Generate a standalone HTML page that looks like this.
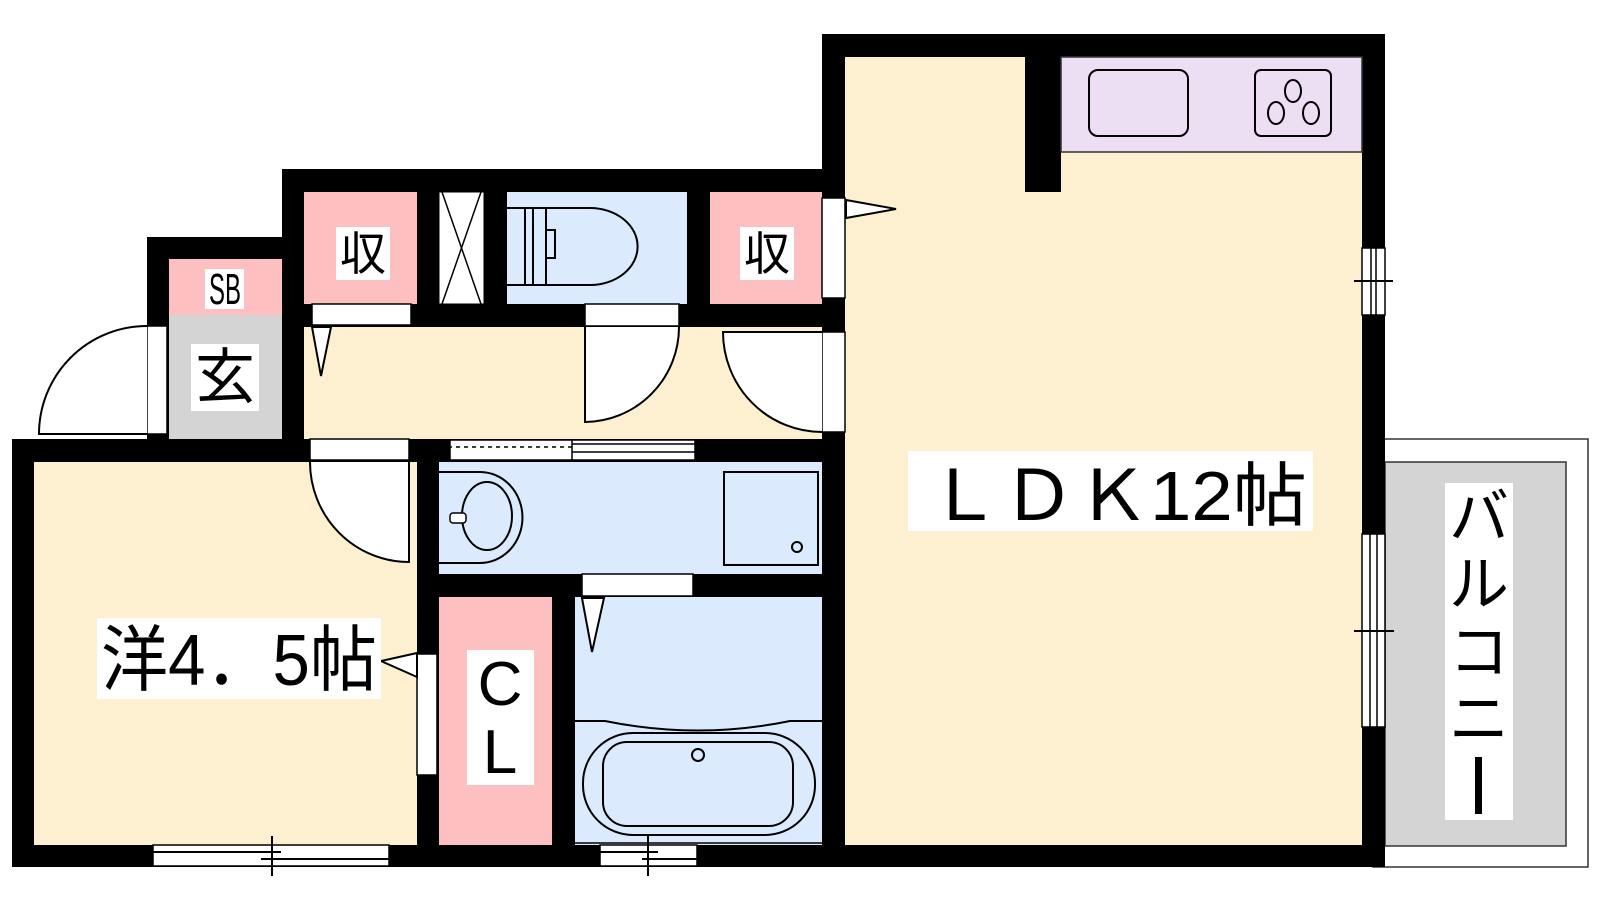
<!DOCTYPE html>
<html><head><meta charset="utf-8"><style>html,body{margin:0;padding:0;background:#fff}svg{display:block}</style></head>
<body>
<svg width="1600" height="900" viewBox="0 0 1600 900" xmlns="http://www.w3.org/2000/svg" font-family="'Liberation Sans','Noto Sans CJK JP',sans-serif">
<!-- balcony -->
<rect x="1373" y="439" width="215" height="428" fill="#fff" stroke="#333" stroke-width="1.5"/>
<rect x="1385" y="462" width="181" height="384" fill="#d4d4d4" stroke="#333" stroke-width="1.5"/>
<!-- walls black base -->
<rect x="822" y="34" width="563" height="833" fill="#000"/>
<rect x="282" y="169" width="560" height="290" fill="#000"/>
<rect x="147" y="237" width="160" height="222" fill="#000"/>
<rect x="12" y="439" width="830" height="428" fill="#000"/>
<!-- LDK -->
<rect x="845" y="57" width="517" height="788" fill="#fdf0d0"/>
<rect x="1025" y="57" width="36" height="135" fill="#000"/>
<rect x="1061" y="57" width="301" height="95" fill="#ecdff4" stroke="#333" stroke-width="1.5"/>
<rect x="1089" y="70" width="99" height="66" rx="9" fill="none" stroke="#000" stroke-width="2"/>
<rect x="1255" y="70" width="76" height="66" rx="6" fill="none" stroke="#000" stroke-width="2"/>
<g fill="none" stroke="#000" stroke-width="2"><ellipse cx="1293" cy="91" rx="8" ry="11"/><ellipse cx="1276" cy="113" rx="8" ry="11"/><ellipse cx="1311" cy="113" rx="8" ry="11"/></g>
<!-- right wall windows -->
<rect x="1362" y="248" width="23" height="67" fill="#fff" stroke="#000" stroke-width="1.5"/>
<line x1="1371" y1="248" x2="1371" y2="315" stroke="#000" stroke-width="1.5"/><line x1="1376" y1="248" x2="1376" y2="315" stroke="#000" stroke-width="1.5"/>
<line x1="1354" y1="281" x2="1393" y2="281" stroke="#000" stroke-width="2"/>
<rect x="1362" y="534" width="23" height="193" fill="#fff" stroke="#000" stroke-width="1.5"/>
<line x1="1370" y1="534" x2="1370" y2="727" stroke="#000" stroke-width="1.5"/><line x1="1377" y1="534" x2="1377" y2="727" stroke="#000" stroke-width="1.5"/>
<line x1="1354" y1="631" x2="1394" y2="631" stroke="#000" stroke-width="2"/>
<!-- storage row -->
<rect x="304" y="192" width="113" height="112" fill="#fdbfbf"/>
<rect x="439" y="192" width="45" height="112" fill="#fff" stroke="#000" stroke-width="1"/>
<path d="M442 192 L481 304 M481 192 L442 304" stroke="#000" stroke-width="1.5"/>
<rect x="507" y="192" width="180" height="112" fill="#dbebfd"/>
<path d="M507 208 H525 V285 H507 M525 208 H533 V285 H525 M533 208 H590 A47 38 0 0 1 590 285 H533 M546 208 V285 M546 230 H555 V258 H546" fill="none" stroke="#000" stroke-width="2"/>
<rect x="710" y="192" width="112" height="112" fill="#fdbfbf"/>
<rect x="169" y="259" width="113" height="56" fill="#fdbfbf"/>
<rect x="169" y="315" width="113" height="124" fill="#d4d4d4"/>
<!-- hallway -->
<rect x="304" y="327" width="518" height="112" fill="#fdf0d0"/>
<!-- west room -->
<rect x="34" y="462" width="383" height="383" fill="#fdf0d0"/>
<!-- washroom -->
<rect x="439" y="462" width="383" height="112" fill="#dbebfd"/>
<path d="M439 472 H480 A42 45 0 0 1 480 563 H439" fill="none" stroke="#000" stroke-width="2"/>
<ellipse cx="487" cy="516" rx="25" ry="34" fill="none" stroke="#000" stroke-width="2"/>
<rect x="450" y="513" width="16" height="10" rx="3" fill="#fff" stroke="#000" stroke-width="1.5"/>
<rect x="724" y="472" width="94" height="93" fill="none" stroke="#000" stroke-width="2"/>
<circle cx="797" cy="547" r="5" fill="none" stroke="#000" stroke-width="2"/>
<!-- CL & bath -->
<rect x="439" y="597" width="113" height="248" fill="#fdbfbf"/>
<rect x="575" y="597" width="247" height="248" fill="#dbebfd"/>
<path d="M575 721 H605 Q698 740 790 721 H822" fill="none" stroke="#000" stroke-width="2"/>
<rect x="583" y="733" width="232" height="102" rx="50" fill="none" stroke="#000" stroke-width="2"/>
<rect x="603" y="742" width="190" height="84" rx="24" fill="none" stroke="#000" stroke-width="2"/>
<circle cx="698" cy="755" r="6" fill="none" stroke="#000" stroke-width="2"/>
<line x1="575" y1="843" x2="822" y2="843" stroke="#000" stroke-width="1.5"/>
<!-- door strips -->
<g fill="#fff" stroke="#000" stroke-width="1.5">
<rect x="312" y="304" width="99" height="21"/>
<rect x="585" y="304" width="94" height="22"/>
<rect x="822" y="198" width="23" height="100"/>
<rect x="822" y="332" width="23" height="100"/>
<rect x="147" y="326" width="20" height="108"/>
<rect x="310" y="439" width="99" height="21"/>
<rect x="450" y="440" width="245" height="20"/>
<rect x="582" y="574" width="111" height="22"/>
<rect x="417" y="654" width="20" height="121"/>
<rect x="153" y="845" width="236" height="21"/>
<rect x="600" y="845" width="97" height="21"/>
</g>
<path d="M450 447 H572 M572 444 H695 M572 452 H695 M572 440 V460" stroke="#000" stroke-width="1.5"/>
<path d="M452 447 H570" stroke="#fff" stroke-width="2" stroke-dasharray="4 4"/>
<path d="M153 852 H281 M261 859 H389 M272 836 V876" stroke="#000" stroke-width="2"/>
<path d="M600 852 H658 M642 859 H697 M648 836 V876" stroke="#000" stroke-width="2"/>
<!-- door arcs -->
<g fill="#fff" stroke="#000" stroke-width="2">
<path d="M147 326 A108 108 0 0 0 39 434 L147 434"/>
<path d="M585 327 L585 422 A95 95 0 0 0 679 327"/>
<path d="M822 332 L723 332 A99 100 0 0 0 822 432"/>
<path d="M409 462 L409 562 A99 100 0 0 1 310 462"/>
<path d="M312 327 L331 327 L321 376 Z"/>
<path d="M582 598 L604 598 L592 652 Z"/>
<path d="M846 200 L896 209 L846 218 Z"/>
<path d="M417 653 L381 661 L417 677 Z"/>
</g>
<!-- labels -->
<rect x="336" y="227" width="54" height="53" fill="#fff"/>
<text x="363" y="270" font-size="46" text-anchor="middle">収</text>
<rect x="740" y="227" width="54" height="53" fill="#fff"/>
<text x="767" y="270" font-size="46" text-anchor="middle">収</text>
<rect x="205" y="269" width="39" height="40" fill="#fff"/>
<text x="225" y="304" font-size="44" text-anchor="middle" textLength="32" lengthAdjust="spacingAndGlyphs">SB</text>
<rect x="191" y="344" width="68" height="67" fill="#fff"/>
<text x="225" y="398" font-size="60" text-anchor="middle">玄</text>
<rect x="97" y="618" width="284" height="81" fill="#fff"/>
<text x="101" y="685" font-size="72" textLength="276" lengthAdjust="spacingAndGlyphs">洋4．5帖</text>
<rect x="467" y="650" width="67" height="135" fill="#fff"/>
<text x="500" y="705" font-size="62" text-anchor="middle">C</text>
<text x="500" y="773" font-size="62" text-anchor="middle">L</text>
<rect x="908" y="451" width="405" height="80" fill="#fff"/>
<text x="927" y="520" font-size="70" textLength="380" lengthAdjust="spacingAndGlyphs">ＬＤＫ12帖</text>
<rect x="1445" y="483" width="68" height="337" fill="#fff"/>
<g font-size="60" text-anchor="middle"><text x="1479" y="538">バ</text><text x="1479" y="605">ル</text><text x="1479" y="673">コ</text><text x="1479" y="740">ニ</text></g>
<rect x="1475" y="757" width="7" height="57" fill="#000"/>
</svg>
</body></html>
